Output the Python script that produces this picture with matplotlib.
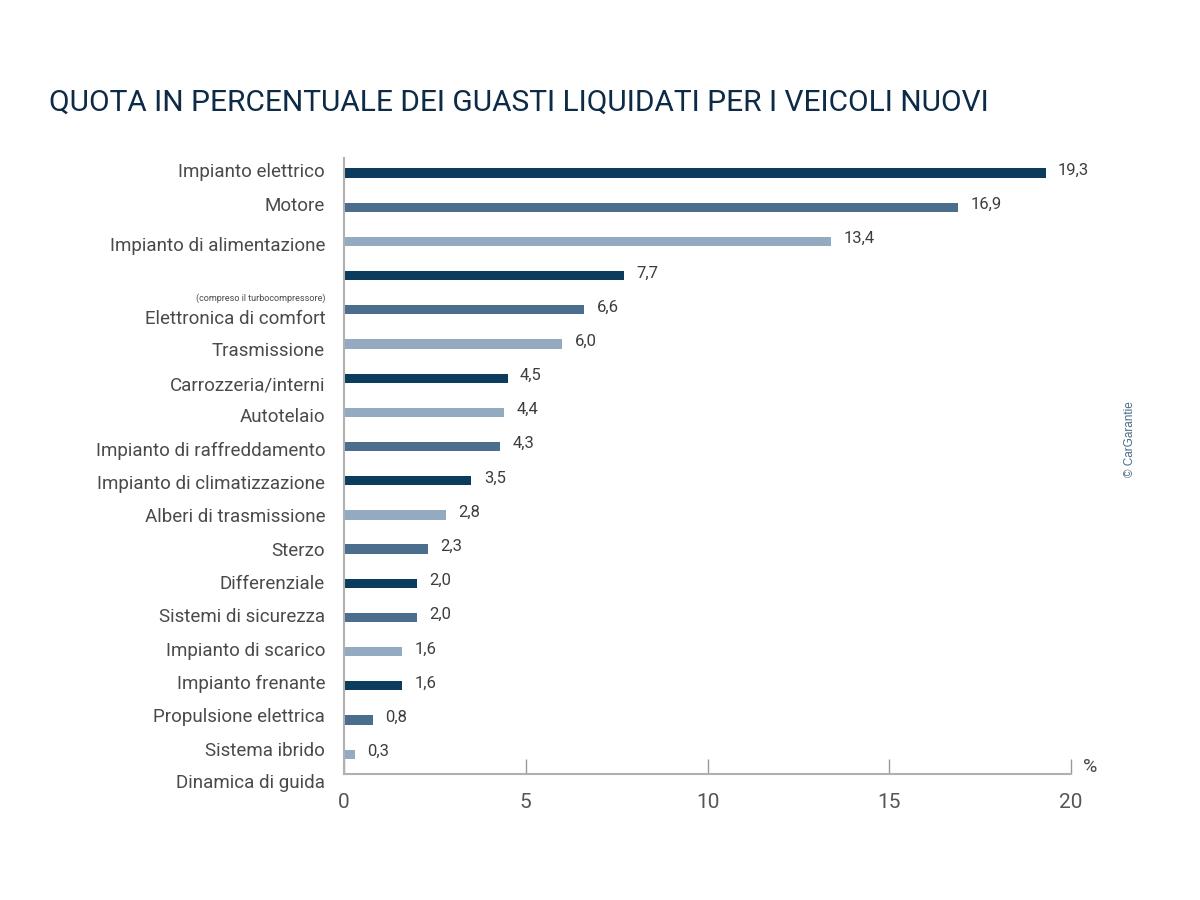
import matplotlib
matplotlib.use('Agg')
import matplotlib.pyplot as plt

# data
values = [19.3, 16.9, 13.4, 7.7, 6.6, 6.0, 4.5, 4.4, 4.3, 3.5, 2.8, 2.3, 2.0, 2.0, 1.6, 1.6, 0.8, 0.3]
value_labels = ['19,3', '16,9', '13,4', '7,7', '6,6', '6,0', '4,5', '4,4', '4,3', '3,5',
                '2,8', '2,3', '2,0', '2,0', '1,6', '1,6', '0,8', '0,3']
shade = ['d', 'm', 'l', 'd', 'm', 'l', 'd', 'l', 'm', 'd', 'l', 'm', 'd', 'm', 'l', 'd', 'm', 'l']

# labels on the left (in the original they drift away from the bars)
left_labels = ['Impianto elettrico', 'Motore', 'Impianto di alimentazione',
               '(compreso il turbocompressore)', 'Elettronica di comfort', 'Trasmissione',
               'Carrozzeria/interni', 'Autotelaio', 'Impianto di raffreddamento',
               'Impianto di climatizzazione', 'Alberi di trasmissione', 'Sterzo', 'Differenziale',
               'Sistemi di sicurezza', 'Impianto di scarico', 'Impianto frenante',
               'Propulsione elettrica', 'Sistema ibrido', 'Dinamica di guida']
left_label_pos = [-0.03, 0.97, 2.14, 3.66, 4.27, 5.21, 6.2, 7.14, 8.13, 9.1, 10.07, 11.06,
                  12.03, 13.0, 13.99, 14.95, 15.92, 16.91, 17.85]

x_ticks = [0, 5, 10, 15, 20]

palette = {'d': '#0b3c5d', 'm': '#4b6e8f', 'l': '#94aac1'}
label_font = ['Roboto', 'DejaVu Sans']

fig = plt.figure(figsize=(12, 9), dpi=100)
ax = fig.add_axes([0.2867, 0.14, 0.6058, 0.6844])

ypos = list(range(len(values)))
ax.barh(ypos, values, height=0.27, color=[palette[s] for s in shade])

ax.set_xlim(0, 20)
ax.set_ylim(17.58, -0.44)

for y, v, txt in zip(ypos, values, value_labels):
    ax.annotate(txt, (v, y), xytext=(9, 2), textcoords='offset points',
                ha='left', va='center', fontsize=12, color='#3d3d3d', family=label_font)

for txt, y in zip(left_labels, left_label_pos):
    small = txt.startswith('(')
    ax.text(-0.026, y, txt, transform=ax.get_yaxis_transform(), ha='right', va='center',
            fontsize=6.5 if small else 13.5, color='#4a4a4a', family=label_font)

for side in ['top', 'right']:
    ax.spines[side].set_visible(False)
for side in ['left', 'bottom']:
    ax.spines[side].set_color('#b0b0b0')
    ax.spines[side].set_linewidth(1.5)

ax.set_yticks([])
ax.set_xticks(x_ticks)
ax.set_xticklabels([str(t) for t in x_ticks], family=label_font, fontsize=15, color='#555555')
ax.tick_params(axis='x', direction='in', length=11, width=1, color='#999999', pad=14)

ax.text(1.0165, 0.011, '%', transform=ax.transAxes, ha='left', va='center',
        fontsize=14, color='#4a4a4a', family=label_font)

fig.text(0.041, 0.886, 'QUOTA IN PERCENTUALE DEI GUASTI LIQUIDATI PER I VEICOLI NUOVI',
         ha='left', va='center', fontsize=21.5, color='#0d2b47', family=label_font)

fig.text(0.942, 0.512, '© CarGarantie', rotation=90, ha='center', va='center',
         fontsize=8.5, color='#4a6a88', family=['Liberation Sans', 'DejaVu Sans'])

fig.savefig('out.png', dpi=100)
